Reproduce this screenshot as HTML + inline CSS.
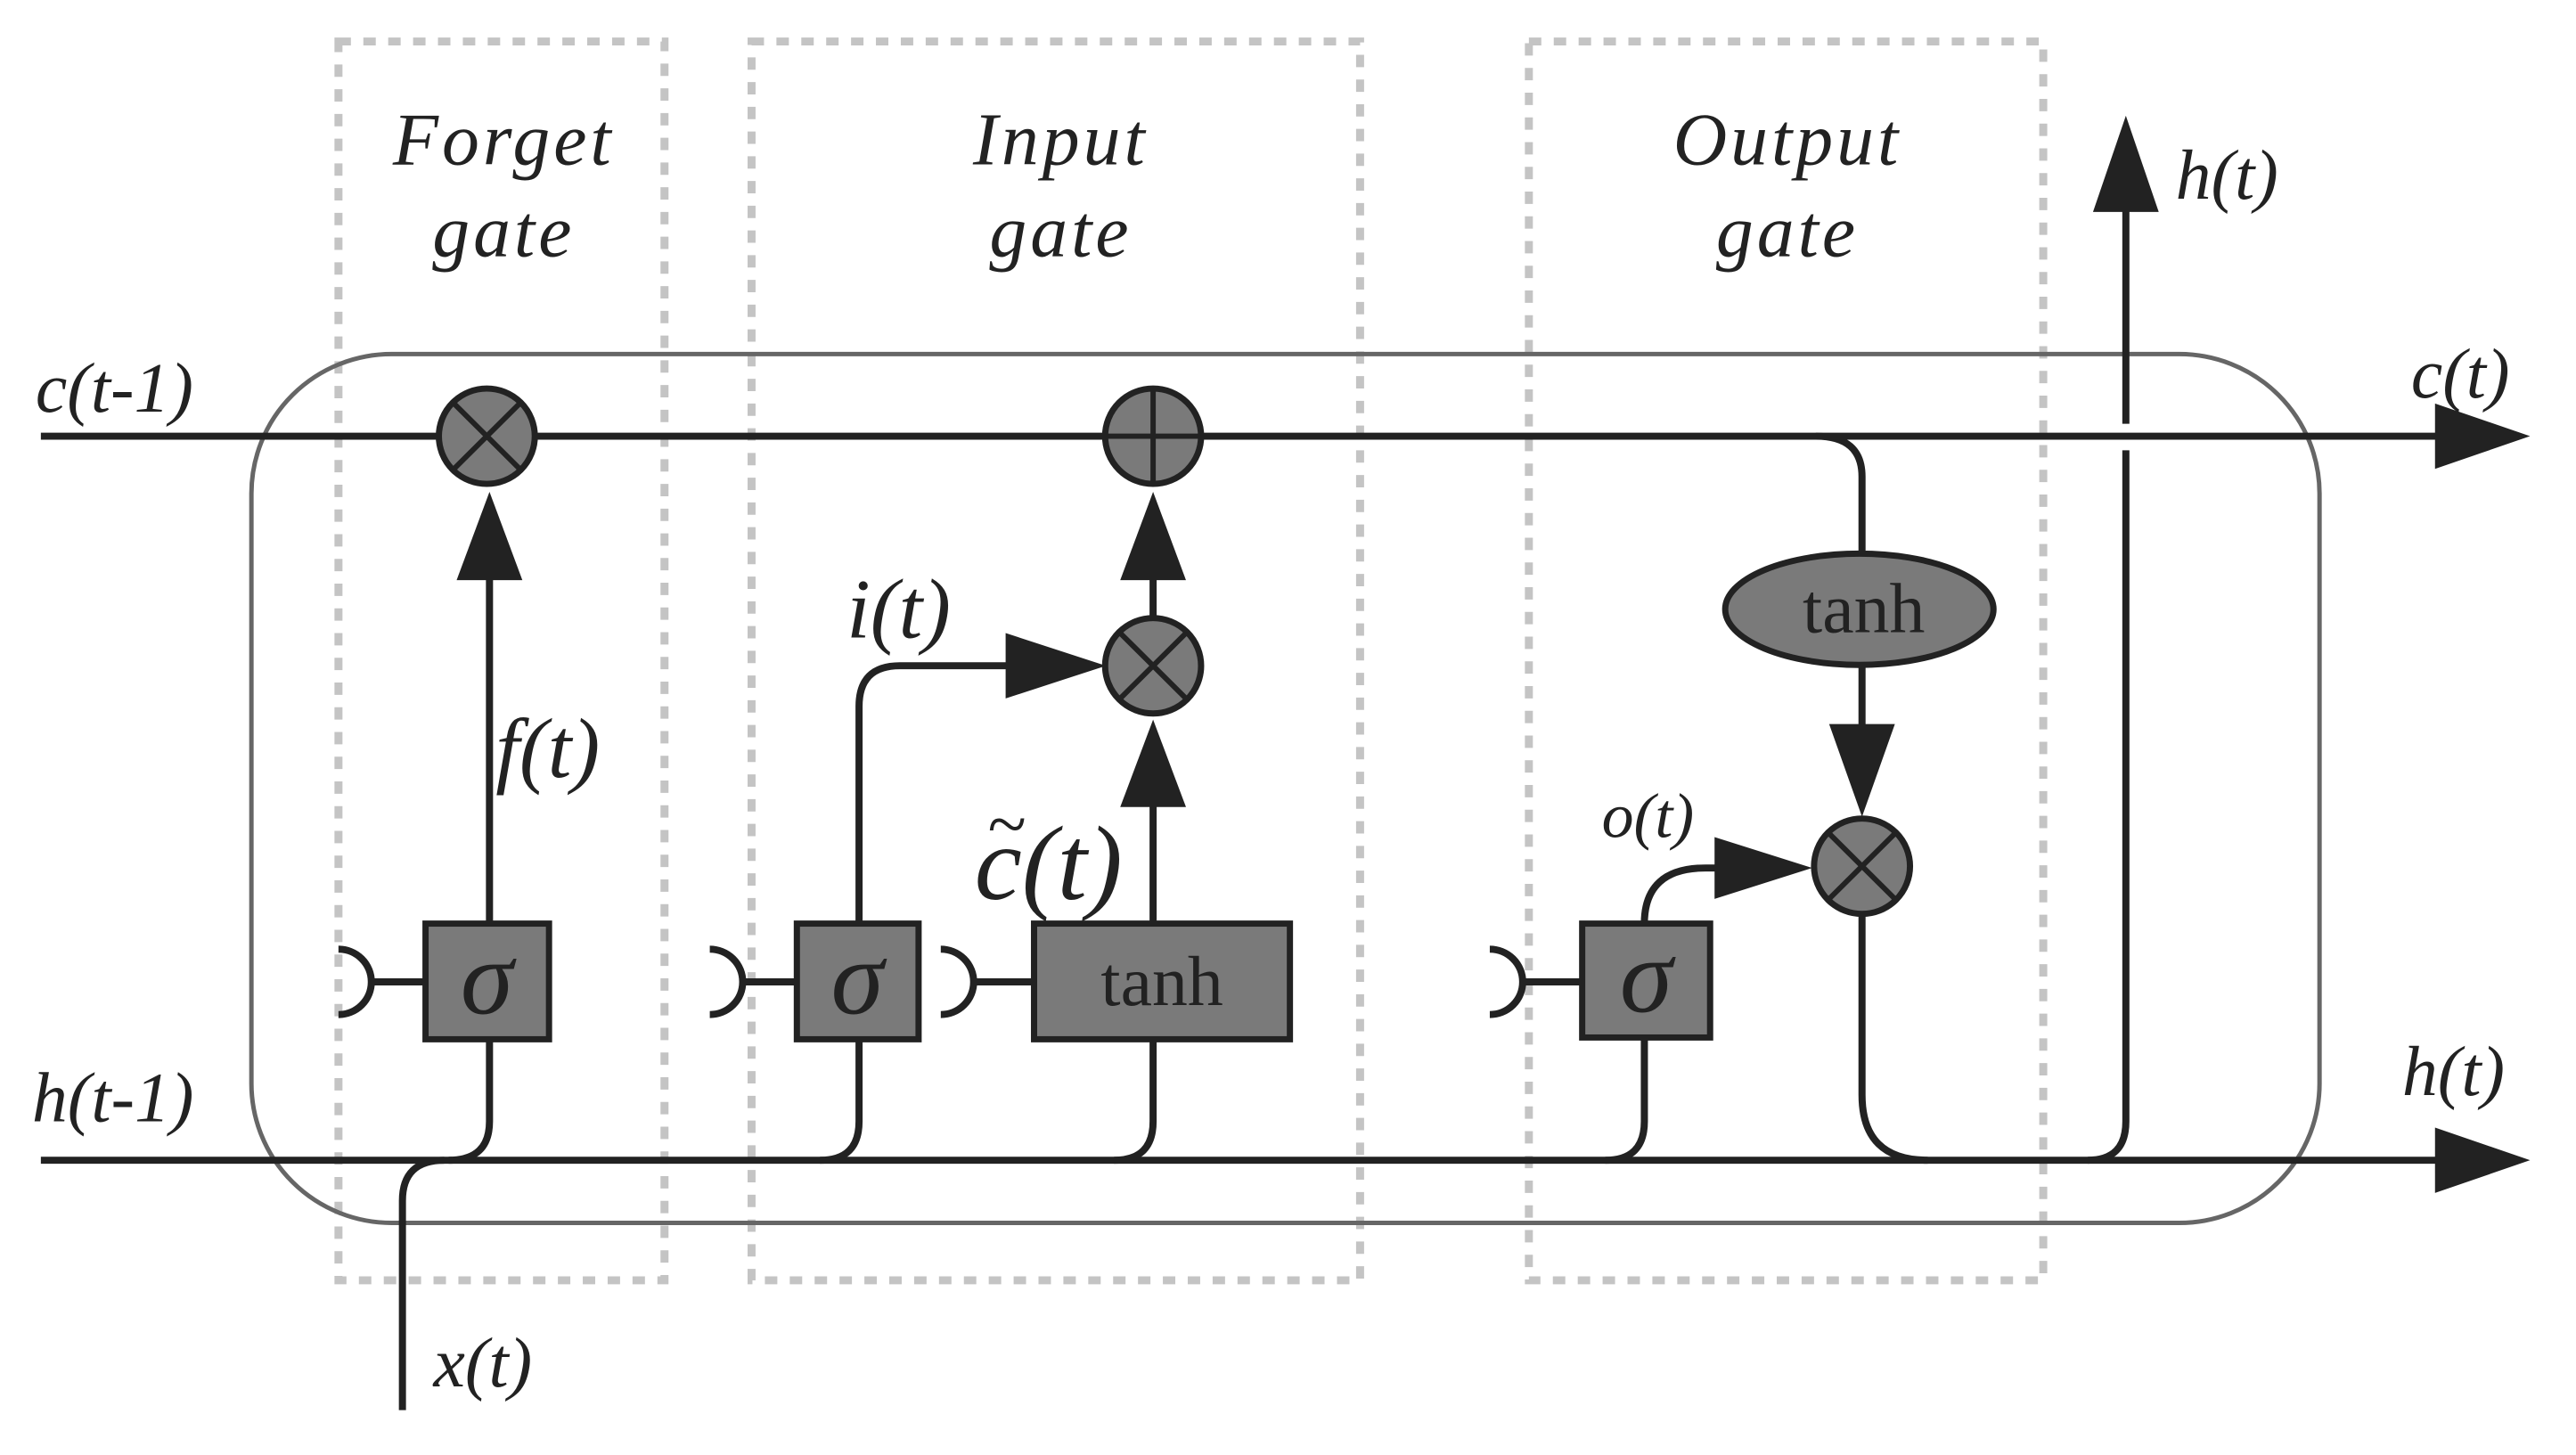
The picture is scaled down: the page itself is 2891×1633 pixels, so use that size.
<!DOCTYPE html>
<html><head><meta charset="utf-8"><style>html,body{margin:0;padding:0;background:#fff}svg{display:block}</style></head>
<body>
<svg width="2891" height="1633" viewBox="0 0 2891 1633" xmlns="http://www.w3.org/2000/svg" font-family="Liberation Serif, serif">
<g transform="scale(0.997,0.991)">
<g fill="none" stroke="#c4c4c4" stroke-width="9" stroke-dasharray="14,14">
<rect x="381" y="47" width="367" height="1403"/>
<rect x="846" y="47" width="685" height="1403"/>
<rect x="1721" y="47" width="579" height="1403"/>
</g>
<rect x="283" y="401" width="2328" height="984" rx="158" ry="158" fill="none" stroke="#666" stroke-width="5"/>
<g fill="none" stroke="#222" stroke-width="8">
<line x1="46" y1="494" x2="2745" y2="494"/>
<line x1="46" y1="1314" x2="2745" y2="1314"/>
<path d="M453 1597 V1360 Q453 1314 500 1314"/>
<path d="M551 1177 V1270 Q551 1314 505 1314"/>
<line x1="551" y1="1046" x2="551" y2="640"/>
<path d="M967 1177 V1270 Q967 1314 923 1314"/>
<path d="M967 1046 V800 Q967 754 1013 754 H1140"/>
<path d="M1298 1177 V1270 Q1298 1314 1254 1314"/>
<line x1="1298" y1="1046" x2="1298" y2="900"/>
<line x1="1298" y1="700" x2="1298" y2="640"/>
<path d="M1851 1175 V1270 Q1851 1314 1807 1314"/>
<path d="M1851 1046 Q1851 983 1920 983 H1935"/>
<path d="M2044 494 Q2096 494 2096 540 V628"/>
<line x1="2096" y1="755" x2="2096" y2="830"/>
<path d="M2096 1035 V1240 Q2096 1314 2170 1314"/>
<path d="M2393 230 V480 M2393 510 V1270 Q2393 1314 2350 1314"/>
<path d="M381 1075 A37 37 0 0 1 381 1149 M418 1112 H479"/>
<path d="M799 1075 A37 37 0 0 1 799 1149 M836 1112 H897"/>
<path d="M1059 1075 A37 37 0 0 1 1059 1149 M1096 1112 H1164"/>
<path d="M1677 1075 A37 37 0 0 1 1677 1149 M1714 1112 H1781"/>
</g>
<g fill="#222">
<polygon points="551,557 514,657 588,657"/>
<polygon points="1298,557 1261,657 1335,657"/>
<polygon points="1298,815 1261,914 1335,914"/>
<polygon points="1245,754 1132,717 1132,791"/>
<polygon points="2040,983 1930,948 1930,1018"/>
<polygon points="2096,925 2059,820 2133,820"/>
<polygon points="2393,131 2356,240 2430,240"/>
<polygon points="2848,494 2741,457 2741,531"/>
<polygon points="2848,1314 2741,1277 2741,1351"/>
</g>
<g fill="#7a7a7a" stroke="#222" stroke-width="7">
<rect x="479" y="1046" width="139" height="131"/>
<rect x="897" y="1046" width="137" height="131"/>
<rect x="1164" y="1046" width="288" height="131"/>
<rect x="1781" y="1046" width="144" height="129"/>
<ellipse cx="2093" cy="690" rx="151" ry="63"/>
<circle cx="548" cy="494" r="54"/>
<circle cx="1298" cy="494" r="54"/>
<circle cx="1298" cy="754" r="54"/>
<circle cx="2096" cy="981" r="54"/>
</g>
<g stroke="#222" stroke-width="6">
<path d="M510 456 L586 532 M586 456 L510 532"/>
<path d="M1298 440 V548 M1244 494 H1352"/>
<path d="M1260 716 L1336 792 M1336 716 L1260 792"/>
<path d="M2058 943 L2134 1019 M2134 943 L2058 1019"/>
</g>
<g fill="#222" font-style="italic">
<text x="567" y="186" font-size="84" text-anchor="middle" letter-spacing="4">Forget</text>
<text x="567" y="290" font-size="84" text-anchor="middle" letter-spacing="4">gate</text>
<text x="1194" y="186" font-size="84" text-anchor="middle" letter-spacing="4">Input</text>
<text x="1194" y="290" font-size="84" text-anchor="middle" letter-spacing="4">gate</text>
<text x="2012" y="186" font-size="84" text-anchor="middle" letter-spacing="4">Output</text>
<text x="2012" y="290" font-size="84" text-anchor="middle" letter-spacing="4">gate</text>
<text x="40" y="466" font-size="80">c(t-1)</text>
<text x="36" y="1270" font-size="80">h(t-1)</text>
<text x="2714" y="450" font-size="80">c(t)</text>
<text x="2704" y="1240" font-size="80">h(t)</text>
<text x="2449" y="225" font-size="80">h(t)</text>
<text x="558" y="880" font-size="96">f(t)</text>
<text x="953" y="722" font-size="96">i(t)</text>
<text x="1097" y="1018" font-size="120">c(t)</text>
<text x="1112" y="960" font-size="80" font-style="normal">~</text>
<text x="1803" y="948" font-size="72">o(t)</text>
<text x="488" y="1570" font-size="80">x(t)</text>
<text x="548" y="1148" font-size="120" text-anchor="middle">σ</text>
<text x="965" y="1148" font-size="120" text-anchor="middle">σ</text>
<text x="1853" y="1146" font-size="120" text-anchor="middle">σ</text>
</g>
<g fill="#222" font-size="80" text-anchor="middle">
<text x="1308" y="1138">tanh</text>
<text x="2098" y="716">tanh</text>
</g>
</g>
</svg>
</body></html>
